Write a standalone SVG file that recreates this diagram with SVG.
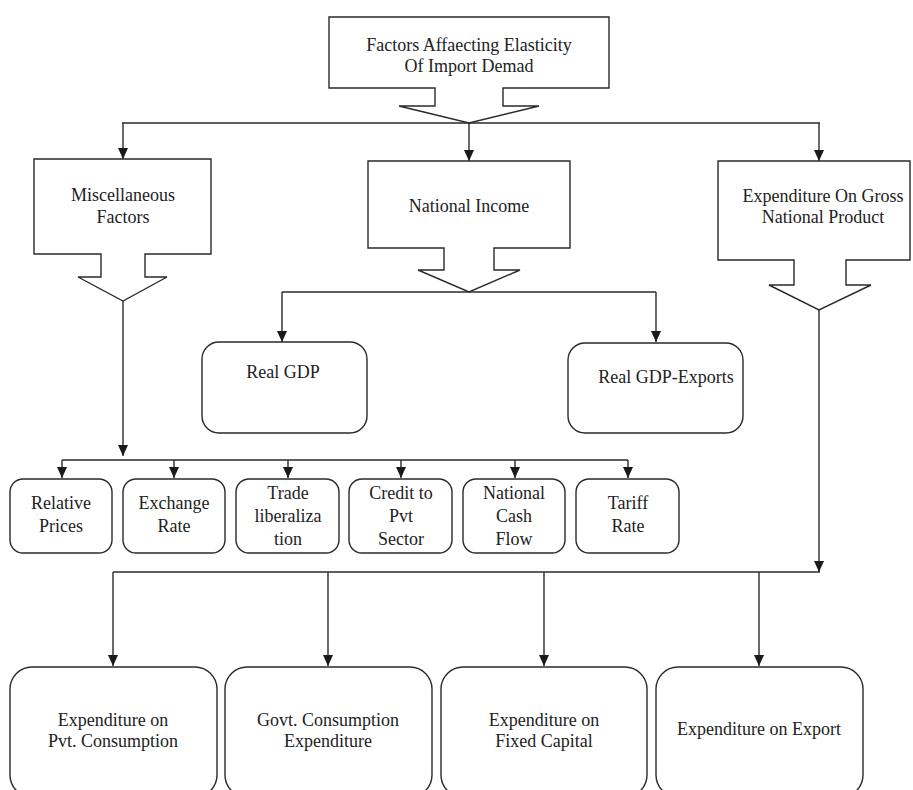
<svg xmlns="http://www.w3.org/2000/svg" width="913" height="790" viewBox="0 0 913 790">
<style>
.shape{fill:#fff;stroke:#2a2a2a;stroke-width:1.4}
.conn{fill:none;stroke:#2a2a2a;stroke-width:1.4}
.arr{marker-end:url(#ah)}
text{font-family:"Liberation Serif","Times New Roman",serif;font-size:18px;fill:#222;text-anchor:middle}
</style>
<defs>
<marker id="ah" viewBox="0 0 11 10" refX="11" refY="5" markerWidth="11" markerHeight="10" markerUnits="userSpaceOnUse" orient="auto">
<path d="M0,0 L11,5 L0,10 z" fill="#1a1a1a"/>
</marker>
</defs>
<rect width="913" height="790" fill="#fff"/>
<g id="connectors">
<path class="conn" d="M122,123 H820"/>
<path class="conn arr" d="M123,123 V159"/>
<path class="conn arr" d="M469,123 V161"/>
<path class="conn arr" d="M819,123 V161"/>
<path class="conn arr" d="M123,301 V456"/>
<path class="conn" d="M62,460 H628"/>
<path class="conn arr" d="M62,460 V478"/>
<path class="conn arr" d="M174,460 V478"/>
<path class="conn arr" d="M288,460 V478"/>
<path class="conn arr" d="M401,460 V478"/>
<path class="conn arr" d="M515,460 V478"/>
<path class="conn arr" d="M628,460 V478"/>
<path class="conn" d="M282,292 H656"/>
<path class="conn arr" d="M282,292 V342"/>
<path class="conn arr" d="M656,292 V342"/>
<path class="conn arr" d="M819,310 V572"/>
<path class="conn" d="M113,572 H820"/>
<path class="conn arr" d="M113,572 V666"/>
<path class="conn arr" d="M328,572 V666"/>
<path class="conn arr" d="M544,572 V666"/>
<path class="conn arr" d="M759,572 V666"/>
</g>
<g id="n-top">
<polygon class="shape" points="329,17 609,17 609,88 503,88 503,106 539,106 469,123 399,106 435,106 435,88 329,88"/>
<text x="469" y="51">Factors Affaecting Elasticity</text>
<text x="469" y="72">Of Import Demad</text>
</g>
<g id="n-misc">
<polygon class="shape" points="34,159 211,159 211,254 145,254 145,277 167,277 123,301 78,277 101,277 101,254 34,254"/>
<text x="123" y="201">Miscellaneous</text>
<text x="123" y="223">Factors</text>
</g>
<g id="n-ni">
<polygon class="shape" points="368,161 570,161 570,248 494,248 494,270 520,270 469,292 418,270 444,270 444,248 368,248"/>
<text x="469" y="212">National Income</text>
</g>
<g id="n-gnp">
<polygon class="shape" points="718,161 910,161 910,260 846,260 846,285 871,285 819,310 769,285 794,285 794,260 718,260"/>
<text x="823" y="202">Expenditure On Gross</text>
<text x="823" y="223">National Product</text>
</g>
<g id="n-realgdp">
<rect class="shape" x="202" y="342" width="165" height="91" rx="17"/>
<text x="283" y="378">Real GDP</text>
</g>
<g id="n-realgdpx">
<rect class="shape" x="568" y="343" width="175" height="90" rx="17"/>
<text x="666" y="383">Real GDP-Exports</text>
</g>
<g id="n-relprices">
<rect class="shape" x="10" y="479" width="102" height="74" rx="13"/>
<text x="61" y="509">Relative</text>
<text x="61" y="532">Prices</text>
</g>
<g id="n-exrate">
<rect class="shape" x="123" y="479" width="102" height="74" rx="13"/>
<text x="174" y="509">Exchange</text>
<text x="174" y="532">Rate</text>
</g>
<g id="n-trade">
<rect class="shape" x="236" y="479" width="103" height="74" rx="13"/>
<text x="288" y="499">Trade</text>
<text x="288" y="522">liberaliza</text>
<text x="288" y="545">tion</text>
</g>
<g id="n-credit">
<rect class="shape" x="349" y="479" width="103" height="74" rx="13"/>
<text x="401" y="499">Credit to</text>
<text x="401" y="522">Pvt</text>
<text x="401" y="545">Sector</text>
</g>
<g id="n-cash">
<rect class="shape" x="463" y="479" width="102" height="74" rx="13"/>
<text x="514" y="499">National</text>
<text x="514" y="522">Cash</text>
<text x="514" y="545">Flow</text>
</g>
<g id="n-tariff">
<rect class="shape" x="576" y="479" width="103" height="74" rx="13"/>
<text x="628" y="509">Tariff</text>
<text x="628" y="532">Rate</text>
</g>
<g id="n-pvt">
<rect class="shape" x="10" y="667" width="207" height="130" rx="22"/>
<text x="113" y="726">Expenditure on</text>
<text x="113" y="747">Pvt. Consumption</text>
</g>
<g id="n-govt">
<rect class="shape" x="225" y="667" width="207" height="130" rx="22"/>
<text x="328" y="726">Govt. Consumption</text>
<text x="328" y="747">Expenditure</text>
</g>
<g id="n-fixed">
<rect class="shape" x="441" y="667" width="206" height="130" rx="22"/>
<text x="544" y="726">Expenditure on</text>
<text x="544" y="747">Fixed Capital</text>
</g>
<g id="n-export">
<rect class="shape" x="656" y="667" width="207" height="130" rx="22"/>
<text x="759" y="735">Expenditure on Export</text>
</g>
</svg>
